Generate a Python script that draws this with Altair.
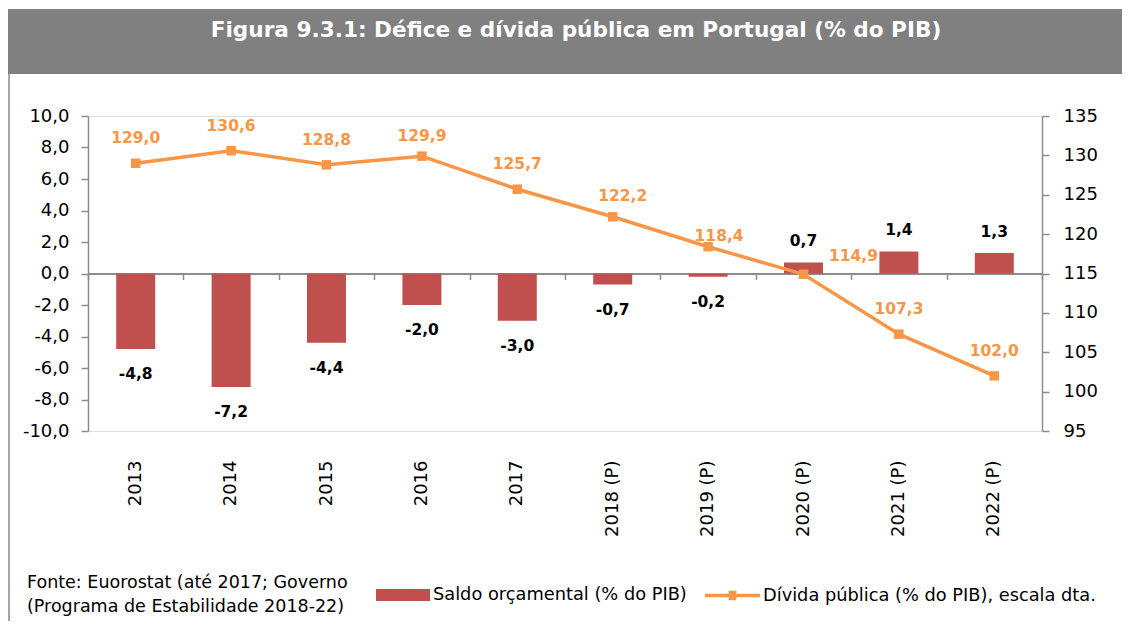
import altair as alt
import pandas as pd

years = ["2013", "2014", "2015", "2016", "2017",
         "2018 (P)", "2019 (P)", "2020 (P)", "2021 (P)", "2022 (P)"]
saldo = [-4.8, -7.2, -4.4, -2.0, -3.0, -0.7, -0.2, 0.7, 1.4, 1.3]
divida = [129.0, 130.6, 128.8, 129.9, 125.7, 122.2, 118.4, 114.9, 107.3, 102.0]

title_text = "Figura 9.3.1: Défice e dívida pública em Portugal (% do PIB)"
source_text = ["Fonte: Euorostat (até 2017; Governo", "(Programa de Estabilidade 2018-22)"]
legend_saldo = "Saldo orçamental (% do PIB)"
legend_divida = "Dívida pública (% do PIB), escala dta."
left_ticks = list(range(-10, 11, 2))
right_ticks = list(range(95, 136, 5))

W, H = 954, 315
RED = "#C0504D"
ORANGE = "#F79646"
AXIS_GREY = "#8c8c8c"
FONT = "DejaVu Sans"

df = pd.DataFrame({"year": years, "saldo": saldo, "divida": divida})

def fmt(field):
    return (f"(datum.{field} < 0 ? '-' : '') + "
            f"replace(format(abs(datum.{field}), '.1f'), '.', ',')")

base = alt.Chart(df).transform_calculate(
    saldo_lbl=fmt("saldo"),
    divida_lbl=fmt("divida"),
    s1=f"'{legend_saldo}'",
    s2=f"'{legend_divida}'",
)

xscale = alt.Scale(domain=years, paddingInner=0, paddingOuter=0)
x_none = alt.X("year:N", sort=years, scale=xscale, axis=None)
yL = alt.Scale(domain=[-10, 10])
yR = alt.Scale(domain=[95, 135])

bars = base.mark_bar(size=39).encode(
    x=alt.X("year:N", sort=years, scale=xscale,
            axis=alt.Axis(title=None, orient="bottom", domain=False, ticks=False,
                          labelAngle=270, labelPadding=29, labelFontSize=18,
                          labelColor="black", labelFont=FONT)),
    y=alt.Y("saldo:Q", scale=yL,
            axis=alt.Axis(title=None, orient="left", values=left_ticks,
                          labelExpr="(datum.value < 0 ? '-' : '') + replace(format(abs(datum.value), '.1f'), '.', ',')",
                          domainColor=AXIS_GREY, domainWidth=1.5, tickColor=AXIS_GREY,
                          tickWidth=1.5, tickSize=7, labelPadding=12, labelFontSize=18,
                          labelColor="black", labelFont=FONT, grid=False)),
    fill=alt.Fill("s1:N", scale=alt.Scale(domain=[legend_saldo], range=[RED]),
                  legend=alt.Legend(title=None, orient="none", legendX=288, legendY=452,
                                    padding=0, symbolType="M-1,-0.22H1V0.22H-1Z",
                                    symbolSize=2916, symbolStrokeWidth=0,
                                    labelFontSize=17.8, labelColor="black", labelFont=FONT,
                                    labelOffset=3, labelLimit=600)),
)

bar_lbl_pos = base.transform_filter("datum.saldo >= 0").mark_text(
    fontWeight="bold", fontSize=15.5, font=FONT, color="black", dy=-21, baseline="middle"
).encode(x=x_none, y=alt.Y("saldo:Q", scale=yL, axis=None), text="saldo_lbl:N")

bar_lbl_neg = base.transform_filter("datum.saldo < 0").mark_text(
    fontWeight="bold", fontSize=15.5, font=FONT, color="black", dy=25, baseline="middle"
).encode(x=x_none, y=alt.Y("saldo:Q", scale=yL, axis=None), text="saldo_lbl:N")

line = base.mark_line(strokeWidth=3.5).encode(
    x=alt.X("year:N", sort=years, scale=xscale,
            axis=alt.Axis(title=None, orient="bottom", offset=-H / 2, labels=False,
                          domain=True, domainColor=AXIS_GREY, domainWidth=2,
                          ticks=True, tickBand="extent", tickSize=6,
                          tickColor=AXIS_GREY, tickWidth=1.5, grid=False)),
    y=alt.Y("divida:Q", scale=yR,
            axis=alt.Axis(title=None, orient="right", values=right_ticks, format="d",
                          domainColor=AXIS_GREY, domainWidth=1.5, tickColor=AXIS_GREY,
                          tickWidth=1.5, tickSize=7, labelPadding=14, labelFontSize=18,
                          labelColor="black", labelFont=FONT, grid=False)),
    stroke=alt.Stroke("s2:N", scale=alt.Scale(domain=[legend_divida], range=[ORANGE]),
                      legend=alt.Legend(title=None, orient="none", legendX=617, legendY=452,
                                        padding=0,
                                        symbolType="M-1,-0.06H1V0.06H-1Z M-0.14,-0.17H0.14V0.17H-0.14Z",
                                        symbolSize=3025, symbolStrokeWidth=0,
                                        symbolFillColor=ORANGE,
                                        labelFontSize=17.8, labelColor="black", labelFont=FONT,
                                        labelOffset=3, labelLimit=600)),
)

points = base.mark_square(size=90, color=ORANGE, opacity=1).encode(
    x=x_none, y=alt.Y("divida:Q", scale=yR, axis=None)
)

def dlabel(filt, dx, dy):
    return base.transform_filter(filt).mark_text(
        fontWeight="bold", fontSize=15.5, font=FONT, color=ORANGE,
        dx=dx, dy=dy, baseline="middle"
    ).encode(x=x_none, y=alt.Y("divida:Q", scale=yR, axis=None), text="divida_lbl:N")

lbl_main = dlabel("indexof(['2016','2018 (P)','2019 (P)','2020 (P)'], datum.year) < 0", 0, -25)
lbl_2016 = dlabel("datum.year == '2016'", 0, -20)
lbl_2018 = dlabel("datum.year == '2018 (P)'", 10, -21)
lbl_2019 = dlabel("datum.year == '2019 (P)'", 11, -11)
lbl_2020 = dlabel("datum.year == '2020 (P)'", 50, -18)

one = alt.Data(values=[{"t": title_text}])
banner = alt.Chart(one).mark_rect(color="#808080").encode(
    x=alt.value(-80), x2=alt.value(W + 90), y=alt.value(-107), y2=alt.value(-42)
)
title = alt.Chart(one).mark_text(
    font=FONT, fontWeight="bold", fontSize=21.6, color="white", align="center", baseline="middle"
).encode(x=alt.value(488), y=alt.value(-85), text="t:N")
border = alt.Chart(one).mark_rule(color="#a6a6a6", strokeWidth=2).encode(
    x=alt.value(-79), y=alt.value(-42), y2=alt.value(H + 200)
)
source = alt.Chart(alt.Data(values=[{"t": source_text}])).mark_text(
    font=FONT, fontSize=17.5, color="black", align="left", baseline="middle", lineHeight=24
).encode(x=alt.value(-61), y=alt.value(467), text=alt.Text("t:N"))

chart = alt.layer(
    banner, title, border, source,
    bars, bar_lbl_pos, bar_lbl_neg,
    line, points, lbl_main, lbl_2016, lbl_2018, lbl_2019, lbl_2020,
).resolve_scale(y="independent").resolve_axis(x="independent").properties(
    width=W, height=H,
    autosize=alt.AutoSizeParams(type="none"),
    padding={"left": 80, "top": 108, "right": 80, "bottom": 190},
).configure_view(stroke=None).configure(font=FONT)

chart.save("out.html", embed_options={"renderer": "svg", "actions": False})
